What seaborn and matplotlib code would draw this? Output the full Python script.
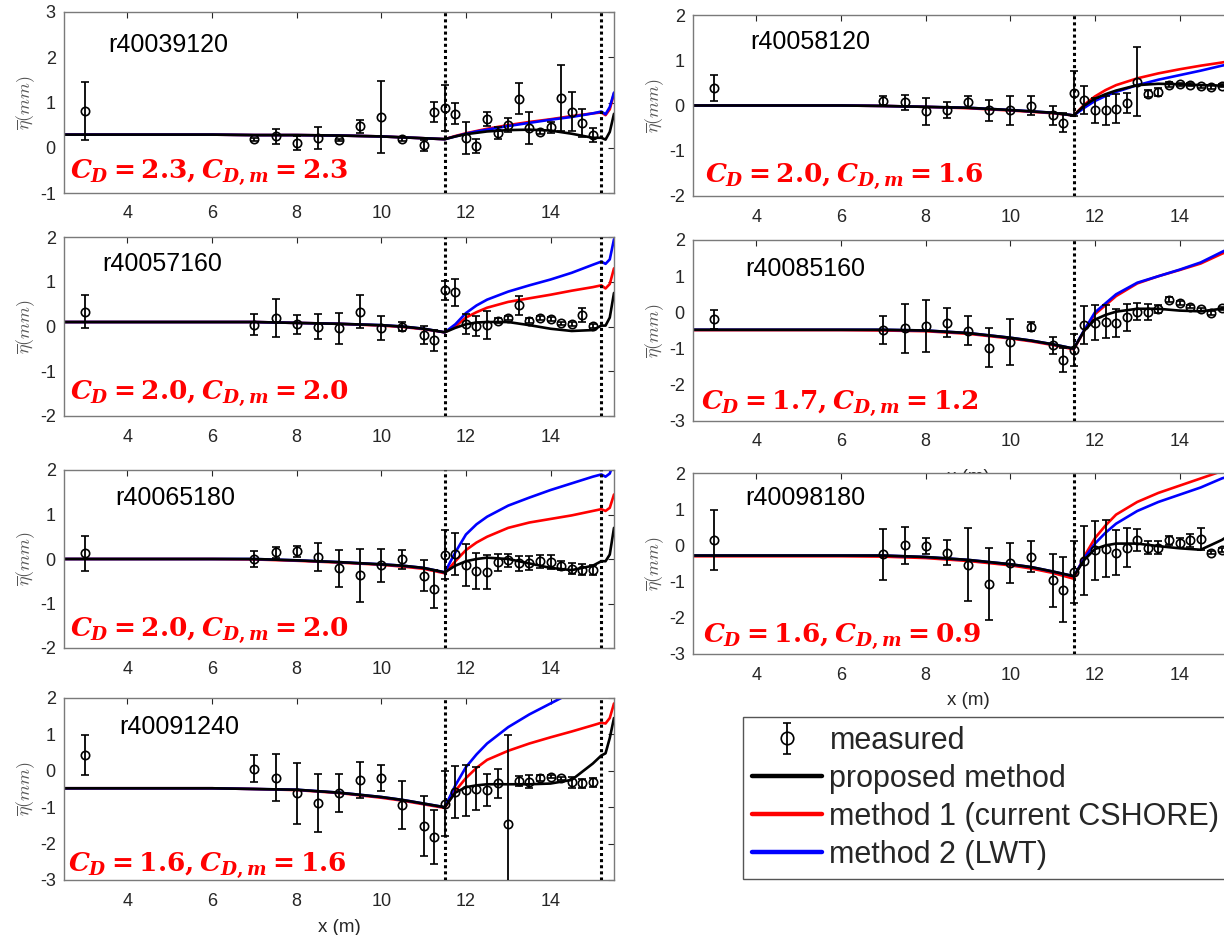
import numpy as np
import pandas as pd
import matplotlib
matplotlib.use("Agg")
import matplotlib.pyplot as plt
from matplotlib.lines import Line2D
import seaborn as sns

# ---------------- data ----------------
names = ["r40039120", "r40058120", "r40057160", "r40085160", "r40065180", "r40098180", "r40091240"]
cd_labels = [r"$C_D = 2.3, C_{D,m} = 2.3$", r"$C_D = 2.0, C_{D,m} = 1.6$",
             r"$C_D = 2.0, C_{D,m} = 2.0$", r"$C_D = 1.7, C_{D,m} = 1.2$",
             r"$C_D = 2.0, C_{D,m} = 2.0$", r"$C_D = 1.6, C_{D,m} = 0.9$",
             r"$C_D = 1.6, C_{D,m} = 1.6$"]
ylims = [(-1, 3), (-2, 2), (-2, 2), (-3, 2), (-2, 2), (-3, 2), (-3, 2)]

# measured positions (m)
mx = [3, 7, 7.5, 8, 8.5, 9, 9.5, 10, 10.5, 11, 11.25, 11.5, 11.75, 12, 12.25, 12.5,
      12.75, 13, 13.25, 13.5, 13.75, 14, 14.25, 14.5, 14.75, 15]

meas_y1 = [0.82,0.19,0.25,0.11,0.21,0.17,0.47,0.68,0.19,0.05,0.79,0.88,0.75,0.22,0.04,0.63,0.32,0.50,1.08,0.44,0.35,0.45,1.10,0.80,0.55,0.28]
meas_e1 = [0.64,0.03,0.17,0.16,0.24,0.03,0.15,0.80,0.04,0.13,0.23,0.50,0.23,0.35,0.15,0.15,0.13,0.15,0.34,0.36,0.05,0.13,0.72,0.43,0.31,0.15]
meas_y2 = [0.39,0.11,0.07,-0.13,-0.10,0.07,-0.11,-0.10,-0.01,-0.22,-0.38,0.27,0.12,-0.11,-0.11,-0.07,0.06,0.53,0.26,0.30,0.46,0.47,0.46,0.42,0.41,0.44]
meas_e2 = [0.29,0.10,0.16,0.30,0.18,0.13,0.24,0.32,0.21,0.21,0.21,0.50,0.30,0.27,0.33,0.32,0.22,0.77,0.08,0.08,0.05,0.03,0.03,0.04,0.04,0.04]
meas_y3 = [0.33,0.04,0.19,0.05,0.0,-0.04,0.33,-0.04,0.0,-0.19,-0.31,0.81,0.76,0.06,0.01,0.04,0.13,0.19,0.47,0.13,0.19,0.17,0.07,0.05,0.26,0.01]
meas_e3 = [0.37,0.24,0.42,0.21,0.29,0.35,0.37,0.27,0.11,0.21,0.23,0.21,0.30,0.22,0.23,0.31,0.06,0.05,0.22,0.06,0.05,0.05,0.04,0.04,0.16,0.04]
meas_y4 = [-0.19,-0.48,-0.44,-0.37,-0.28,-0.51,-0.97,-0.81,-0.39,-0.91,-1.32,-1.04,-0.35,-0.28,-0.26,-0.30,-0.14,0.02,0.02,0.09,0.35,0.26,0.16,0.09,-0.02,0.11]
meas_e4 = [0.27,0.38,0.68,0.72,0.41,0.40,0.55,0.63,0.13,0.24,0.34,0.45,0.52,0.48,0.46,0.39,0.37,0.23,0.22,0.11,0.07,0.05,0.05,0.04,0.05,0.05]
meas_y5 = [0.13,0.0,0.15,0.17,0.04,-0.21,-0.37,-0.14,-0.01,-0.38,-0.68,0.10,0.12,-0.13,-0.27,-0.29,-0.07,-0.03,-0.10,-0.09,-0.05,-0.07,-0.15,-0.22,-0.24,-0.24]
meas_e5 = [0.39,0.19,0.13,0.13,0.31,0.42,0.60,0.37,0.22,0.35,0.43,0.55,0.47,0.47,0.40,0.38,0.19,0.15,0.16,0.16,0.15,0.15,0.10,0.12,0.12,0.11]
meas_y6 = [0.15,-0.25,0.0,-0.02,-0.20,-0.53,-1.06,-0.48,-0.31,-0.96,-1.22,-0.74,-0.42,-0.14,-0.09,-0.20,-0.06,0.14,-0.06,-0.06,0.14,0.07,0.14,0.17,-0.20,-0.13]
meas_e6 = [0.84,0.70,0.51,0.23,0.34,1.00,0.99,0.56,0.43,0.73,0.89,0.86,0.96,0.81,0.79,0.62,0.54,0.30,0.19,0.18,0.12,0.13,0.18,0.30,0.05,0.05]
meas_y7 = [0.44,0.06,-0.19,-0.62,-0.88,-0.60,-0.25,-0.19,-0.94,-1.51,-1.82,-0.90,-0.58,-0.53,-0.49,-0.53,-0.34,-1.45,-0.28,-0.30,-0.20,-0.16,-0.21,-0.32,-0.34,-0.32]
meas_e7 = [0.55,0.38,0.64,0.83,0.79,0.52,0.50,0.36,0.66,0.82,0.74,0.89,0.71,0.70,0.60,0.44,0.40,2.44,0.15,0.18,0.08,0.05,0.05,0.16,0.12,0.12]

# model curves sampled at these x positions (m)
cx = [2.5, 6, 7, 8, 9, 10, 10.5, 11, 11.5, 11.75, 12, 12.25, 12.5, 13, 13.5, 14, 14.5, 15, 15.2, 15.3, 15.4, 15.5]

prop1 = [0.29,0.29,0.28,0.28,0.27,0.25,0.23,0.21,0.19,0.25,0.30,0.33,0.36,0.39,0.40,0.38,0.31,0.22,0.22,0.18,0.35,0.75]
m1_1  = [0.29,0.29,0.28,0.28,0.27,0.25,0.23,0.21,0.19,0.26,0.32,0.37,0.42,0.50,0.57,0.63,0.70,0.76,0.78,0.72,0.85,1.20]
m2_1  = [0.29,0.29,0.28,0.28,0.27,0.25,0.23,0.21,0.19,0.25,0.31,0.36,0.40,0.48,0.55,0.62,0.68,0.76,0.80,0.74,0.90,1.22]

prop2 = [0.0,0.0,-0.01,-0.03,-0.05,-0.10,-0.13,-0.16,-0.22,0.0,0.15,0.25,0.33,0.45,0.48,0.47,0.45,0.44,0.44,0.44,0.45,0.50]
m1_2  = [0.0,0.0,-0.01,-0.03,-0.06,-0.11,-0.14,-0.17,-0.22,0.02,0.20,0.34,0.45,0.60,0.71,0.80,0.88,0.95,0.98,1.00,1.03,1.10]
m2_2  = [0.0,0.0,-0.01,-0.03,-0.05,-0.10,-0.13,-0.16,-0.22,-0.05,0.10,0.21,0.30,0.45,0.57,0.67,0.77,0.88,0.92,0.95,0.98,1.05]

prop3 = [0.10,0.10,0.10,0.08,0.06,0.03,0.0,-0.05,-0.13,-0.03,0.05,0.09,0.10,0.10,0.03,-0.05,-0.10,-0.08,0.02,0.02,0.20,0.75]
m1_3  = [0.10,0.10,0.10,0.08,0.06,0.02,-0.01,-0.06,-0.13,0.0,0.20,0.32,0.42,0.55,0.63,0.71,0.80,0.88,0.92,0.85,0.95,1.30]
m2_3  = [0.10,0.10,0.10,0.08,0.06,0.03,0.0,-0.05,-0.13,0.05,0.30,0.47,0.60,0.78,0.92,1.05,1.20,1.38,1.45,1.40,1.50,1.95]

prop4 = [-0.48,-0.48,-0.48,-0.50,-0.57,-0.70,-0.78,-0.88,-1.00,-0.50,-0.20,-0.07,0.02,0.10,0.10,0.05,0.03,0.10,0.15,0.20,0.30,0.50]
m1_4  = [-0.49,-0.49,-0.50,-0.52,-0.59,-0.72,-0.80,-0.90,-1.02,-0.50,-0.05,0.20,0.45,0.80,1.00,1.17,1.35,1.62,1.72,1.78,1.85,1.95]
m2_4  = [-0.48,-0.48,-0.48,-0.50,-0.57,-0.70,-0.78,-0.88,-1.00,-0.48,0.00,0.25,0.50,0.82,1.00,1.18,1.38,1.67,1.78,1.83,1.90,2.00]

prop5 = [0.0,0.0,0.0,-0.03,-0.07,-0.12,-0.15,-0.20,-0.30,-0.15,-0.05,0.0,0.03,0.0,-0.10,-0.20,-0.25,-0.15,-0.05,-0.05,0.10,0.70]
m1_5  = [0.0,0.0,-0.01,-0.04,-0.08,-0.13,-0.17,-0.22,-0.32,-0.05,0.20,0.37,0.50,0.70,0.82,0.90,0.98,1.08,1.12,1.08,1.15,1.45]
m2_5  = [0.0,0.0,0.0,-0.03,-0.07,-0.12,-0.15,-0.20,-0.30,0.15,0.55,0.78,0.95,1.20,1.38,1.55,1.70,1.85,1.90,1.85,1.92,2.20]

prop6 = [-0.28,-0.28,-0.28,-0.32,-0.40,-0.52,-0.60,-0.72,-0.85,-0.40,-0.10,0.0,0.05,0.05,-0.02,-0.08,-0.12,0.15,0.30,0.40,0.50,0.60]
m1_6  = [-0.30,-0.30,-0.31,-0.35,-0.43,-0.55,-0.64,-0.76,-0.92,-0.30,0.20,0.55,0.85,1.20,1.45,1.65,1.85,2.05,2.10,2.15,2.20,2.30]
m2_6  = [-0.28,-0.28,-0.28,-0.32,-0.40,-0.52,-0.60,-0.72,-0.85,-0.35,0.05,0.35,0.60,0.95,1.20,1.40,1.60,1.85,1.92,1.96,2.00,2.10]

prop7 = [-0.48,-0.48,-0.50,-0.52,-0.60,-0.72,-0.80,-0.90,-1.00,-0.60,-0.45,-0.40,-0.37,-0.37,-0.37,-0.35,-0.25,0.20,0.42,0.48,0.90,1.45]
m1_7  = [-0.48,-0.48,-0.50,-0.53,-0.61,-0.74,-0.82,-0.92,-1.02,-0.55,-0.20,0.08,0.30,0.55,0.75,0.92,1.08,1.25,1.32,1.30,1.45,1.85]
m2_7  = [-0.48,-0.48,-0.50,-0.52,-0.60,-0.72,-0.80,-0.90,-1.00,-0.40,0.10,0.45,0.75,1.20,1.55,1.85,2.15,2.45,2.55,2.60,2.65,2.80]

meas_y = [meas_y1, meas_y2, meas_y3, meas_y4, meas_y5, meas_y6, meas_y7]
meas_e = [meas_e1, meas_e2, meas_e3, meas_e4, meas_e5, meas_e6, meas_e7]
props = [prop1, prop2, prop3, prop4, prop5, prop6, prop7]
meth1 = [m1_1, m1_2, m1_3, m1_4, m1_5, m1_6, m1_7]
meth2 = [m2_1, m2_2, m2_3, m2_4, m2_5, m2_6, m2_7]

legend_labels = ["measured", "proposed method", "method 1 (current CSHORE)", "method 2 (LWT)"]
vlines_x = [11.5, 15.2]

# ---------------- style ----------------
sns.set_theme(style="white")
plt.rcParams["font.family"] = ["Liberation Sans", "DejaVu Sans"]
plt.rcParams["axes.unicode_minus"] = False
plt.rcParams["mathtext.fontset"] = "custom"
plt.rcParams["mathtext.rm"] = "DejaVu Serif:bold"
plt.rcParams["mathtext.it"] = "DejaVu Serif:italic:bold"
plt.rcParams["mathtext.bf"] = "DejaVu Serif:bold"

W, H = 1224, 935
fig = plt.figure(figsize=(W / 100, H / 100), dpi=100)

# panel boxes in pixels: (left, top, bottom)
boxes = [(64, 12, 193), (693, 15, 196),
         (64, 237, 416), (693, 240, 421),
         (64, 470, 648), (693, 473, 654),
         (64, 698, 880)]
axw = 550
name_pos = [(0.08, 0.815), (0.105, 0.85), (0.07, 0.85), (0.095, 0.84),
            (0.093, 0.84), (0.095, 0.86), (0.10, 0.84)]
cd_pos = [(0.011, 0.116), (0.021, 0.11), (0.011, 0.13), (0.014, 0.10),
          (0.010, 0.10), (0.018, 0.096), (0.007, 0.08)]
xlabel_pad = {3: 13, 5: 6, 6: 7}

palette = {"method 1": "#ff0000", "method 2": "#0000ff", "proposed": "#000000"}
axcol = "#262626"

eb_handle = None
for i in range(7):
    l, t, b = boxes[i]
    ax = fig.add_axes([l / W, 1 - b / H, axw / W, (b - t) / H], zorder=i)
    ax.set_facecolor("white")
    df = pd.DataFrame({
        "x": cx * 3,
        "y": meth1[i] + meth2[i] + props[i],
        "method": ["method 1"] * len(cx) + ["method 2"] * len(cx) + ["proposed"] * len(cx),
    })
    sns.lineplot(data=df, x="x", y="y", hue="method", hue_order=["method 1", "method 2", "proposed"],
                 palette=palette, estimator=None, sort=False, legend=False, lw=1.9, ax=ax)
    eb = ax.errorbar(mx, meas_y[i], yerr=meas_e[i], fmt="o", ms=6, mfc="none", mec="black",
                     mew=1.2, ecolor="black", elinewidth=1.3, capsize=3, capthick=1.3, zorder=4)
    if eb_handle is None:
        eb_handle = eb
    for vx in vlines_x:
        ax.axvline(vx, color="black", ls=(0, (1, 1)), lw=2.2, zorder=5)
    ax.set_xlim(2.5, 15.5)
    ax.set_ylim(*ylims[i])
    ax.set_xticks([4, 6, 8, 10, 12, 14])
    lo, hi = ylims[i]
    ax.set_yticks(list(range(lo, hi + 1)))
    ax.tick_params(direction="in", top=True, right=True, length=4, width=0.8,
                   labelsize=13, colors=axcol, labelcolor=axcol)
    ax.tick_params(axis="x", pad=9)
    ax.tick_params(axis="y", pad=6)
    for s in ax.spines.values():
        s.set_color("#7a7a7a")
        s.set_linewidth(1.0)
    ax.set_ylabel(r"$\overline{\eta}(mm)$", fontsize=13, color="#555555",
                  math_fontfamily="cm", labelpad=2)
    if i in xlabel_pad:
        ax.set_xlabel("x (m)", fontsize=13.5, color=axcol, labelpad=xlabel_pad[i])
    else:
        ax.set_xlabel("")
    ax.text(name_pos[i][0], name_pos[i][1], names[i], transform=ax.transAxes,
            fontsize=18, color="black", ha="left", va="center", zorder=6)
    ax.text(cd_pos[i][0], cd_pos[i][1], cd_labels[i], transform=ax.transAxes,
            fontsize=19, color="#ff0000", ha="left", va="center", zorder=6)

handles = [eb_handle,
           Line2D([], [], color="black", lw=3.2),
           Line2D([], [], color="#ff0000", lw=3.2),
           Line2D([], [], color="#0000ff", lw=3.2)]
leg = fig.legend(handles, legend_labels, loc="upper left",
                 bbox_to_anchor=(743 / W, 1 - 717 / H), bbox_transform=fig.transFigure,
                 fontsize=22, frameon=True, fancybox=False, shadow=False, framealpha=1,
                 edgecolor="#555555", handlelength=2.3, handletextpad=0.23,
                 labelspacing=0.255, borderpad=0.3, borderaxespad=0, markerscale=1.5)
leg.get_frame().set_linewidth(1.0)
leg.set_zorder(20)

fig.savefig("out.png", dpi=100)
